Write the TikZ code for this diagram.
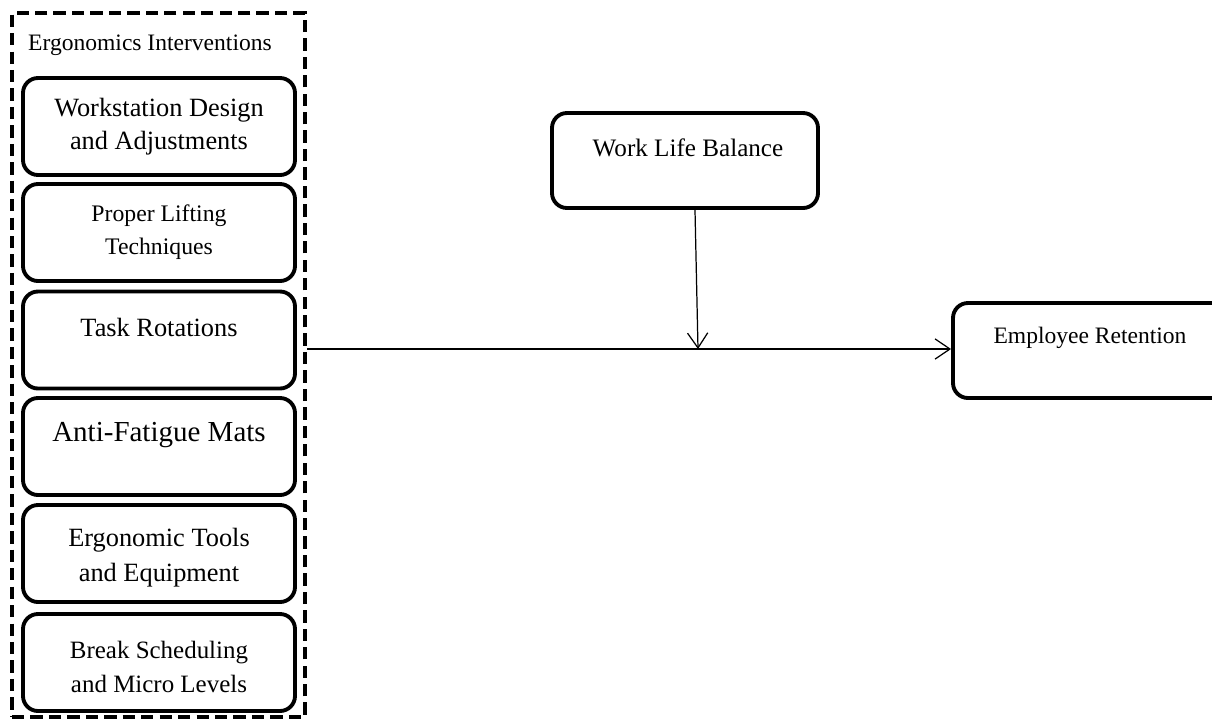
\documentclass[tikz,border=0pt]{standalone}
\usepackage{fontspec}
\setmainfont{Liberation Serif}
\usetikzlibrary{arrows.meta}

\begin{document}
\begin{tikzpicture}[
    box/.style={draw, line width=2.2pt, rounded corners=0.3cm, minimum width=5.44cm, minimum height=1.94cm},
    txt/.style={align=center, inner sep=0pt},
    link/.style={-{Straight Barb[length=8.5pt, width=11.5pt]}, line width=0.7pt}
    ]
        \path[use as bounding box, clip] (0,0) rectangle (24.24,-14.42);

        % dashed frame round the interventions
        \node [draw, dash pattern=on 7pt off 3.5pt, line width=2.4pt, minimum width=5.86cm, minimum height=14.08cm] (ergo) at (3.17,-7.3) {};
        \node [txt, font=\fontsize{13.4}{16}\selectfont] (ergot) at (3.0,-0.9) {Ergonomics Interventions};

        \node [box] (wsd) at (3.18,-2.53) {};
        \node [box] (lift) at (3.18,-4.65) {};
        \node [box] (tsk) at (3.18,-6.8) {};
        \node [box] (mat) at (3.18,-8.93) {};
        \node [box] (tool) at (3.18,-11.07) {};
        \node [box] (brk) at (3.18,-13.25) {};

        \node [txt, font=\fontsize{15}{18.7}\selectfont] (wsdt) at (wsd) {Workstation Design\\and Adjustments};
        \node [txt, font=\fontsize{13.5}{18.7}\selectfont] (liftt) at (lift) {Proper Lifting\\Techniques};
        \node [txt, font=\fontsize{15}{18}\selectfont] (tskt) at (3.18,-6.54) {Task Rotations};
        \node [txt, font=\fontsize{16.5}{20}\selectfont] (matt) at (3.18,-8.7) {Anti-Fatigue Mats};
        \node [txt, font=\fontsize{15}{20}\selectfont] (toolt) at (3.18,-11.16) {Ergonomic Tools\\and Equipment};
        \node [txt, font=\fontsize{14.2}{19.8}\selectfont] (brkt) at (3.18,-13.34) {Break Scheduling\\and Micro Levels};

        % moderator and outcome
        \node [box, minimum width=5.32cm, minimum height=1.9cm] (wlb) at (13.7,-3.21) {};
        \node [txt, font=\fontsize{14.3}{17}\selectfont] (wlbt) at (13.76,-2.96) {Work Life Balance};

        \node [box, minimum width=5.48cm, minimum height=1.9cm] (ret) at (21.8,-7.01) {};
        \node [txt, font=\fontsize{13.4}{16}\selectfont] (rett) at (21.8,-6.76) {Employee Retention};

        \coordinate (jn) at (13.96,-6.98);

        \draw[link] (ergo.east |- jn) -- (ret.west |- jn);
        \draw[link] ([xshift=0.2cm]wlb.south) -- (jn);
    \end{tikzpicture}
\end{document}
